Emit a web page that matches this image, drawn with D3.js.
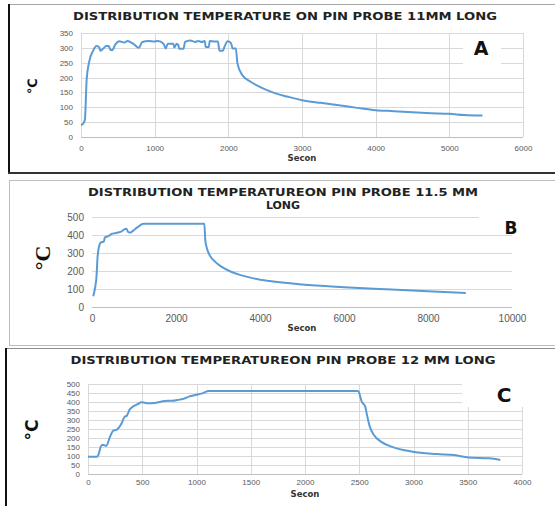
<!DOCTYPE html>
<html>
<head>
<meta charset="utf-8">
<script src="https://cdn.jsdelivr.net/npm/d3@7"></script>
<style>
  body { margin: 0; background: #fff; }
  svg { display: block; }
  .tick text { fill: #595959; font-family: "Liberation Sans", Arial, sans-serif; }
  .title { font-family: "DejaVu Sans", sans-serif; font-weight: bold; fill: #222; }
  .axis-title { font-family: "DejaVu Sans", sans-serif; font-weight: bold; fill: #333; font-size: 8.5px; }
</style>
</head>
<body>
<div id="wrapper"></div>
<script>
// Data: time (s) and temperature (°C)
const timeA = [0, 30, 53, 76, 111, 164, 209, 244, 262, 300, 342, 378, 396, 422, 467, 520, 587, 631, 707, 787, 831, 920, 987, 1044, 1120, 1151, 1178, 1253, 1267, 1298, 1320, 1333, 1391, 1413, 1480, 1547, 1591, 1640, 1680, 1693, 1735, 1747, 1813, 1858, 1880, 1924, 1947, 1991, 2036, 2058, 2102, 2124, 2191, 2302, 2400, 2500, 2650, 2800, 3000, 3250, 3500, 3750, 4000, 4250, 4500, 4750, 5000, 5200, 5450]
const tempA = [40, 45, 58, 190, 253, 290, 306, 303, 290, 297, 306, 306, 294, 292, 312, 322, 318, 323, 314, 300, 320, 323, 321, 323, 314, 298, 314, 314, 301, 314, 310, 297, 297, 320, 325, 320, 323, 320, 323, 303, 303, 323, 321, 321, 290, 290, 303, 322, 316, 298, 298, 247, 208, 186, 172, 160, 146, 136, 124, 115, 107, 98, 90, 87, 83, 80, 78, 74, 72]

const timeB = [30, 77, 107, 130, 168, 207, 283, 306, 398, 475, 552, 628, 705, 782, 820, 858, 920, 973, 1088, 1226, 2674, 2697, 2736, 2812, 2927, 3080, 3310, 3540, 3847, 4230, 5000, 6000, 7000, 8000, 8900]
const tempB = [60, 112, 168, 270, 336, 358, 364, 386, 395, 407, 410, 414, 420, 433, 435, 418, 414, 423, 444, 463, 463, 373, 326, 284, 252, 224, 196, 177, 159, 144, 125, 110, 98, 87, 78]

const timeC = [0, 82, 91, 127, 142, 167, 203, 233, 255, 279, 309, 339, 355, 385, 424, 461, 491, 521, 552, 612, 673, 733, 779, 824, 885, 930, 991, 1052, 1112, 2490, 2523, 2555, 2571, 2597, 2635, 2700, 2797, 2990, 3216, 3377, 3506, 3700, 3800]
const tempC = [96, 96, 100, 161, 161, 156, 207, 241, 244, 254, 281, 319, 322, 359, 378, 389, 398, 396, 393, 395, 402, 407, 407, 411, 419, 430, 439, 448, 461, 461, 402, 374, 328, 263, 217, 180, 152, 124, 111, 105, 92, 87, 78]

const panels = [
  {
    letter: "A", time: timeA, temp: tempA,
    titleLines: ["DISTRIBUTION TEMPERATURE ON PIN PROBE 11MM LONG"],
    titleY: [20], titleLen: [424], titleX: 285,
    xMax: 6000, xStep: 1000, yMax: 350, yStep: 50,
    x0: 81, x1: 523, yTop: 33, yBottom: 137, tickSize: 8, tickPad: 5, vGrid: true,
    unit: "℃", unitX: 37, unitY: 86, unitSize: 13, unitFont: "DejaVu Sans",
    secY: 161, letterPos: [481, 55], box: [463, 37, 38, 27], letterSize: 19
  },
  {
    letter: "B", time: timeB, temp: tempB,
    titleLines: ["DISTRIBUTION TEMPERATUREON PIN PROBE 11.5 MM", "LONG"],
    titleY: [196, 209], titleLen: [390, null], titleX: 283,
    xMax: 10000, xStep: 2000, yMax: 500, yStep: 100,
    x0: 92, x1: 512, yTop: 217, yBottom: 307, tickSize: 10, tickPad: 5, vGrid: false,
    unit: "°C", unitX: 50, unitY: 258, unitSize: 22, unitFont: "Liberation Serif",
    secY: 331, letterPos: [511, 234], box: [479, 213, 40, 20], letterSize: 17
  },
  {
    letter: "C", time: timeC, temp: tempC,
    titleLines: ["DISTRIBUTION TEMPERATUREON PIN PROBE 12 MM LONG"],
    titleY: [364], titleLen: [425], titleX: 283,
    xMax: 4000, xStep: 500, yMax: 500, yStep: 50,
    x0: 88, x1: 522, yTop: 384, yBottom: 474, tickSize: 8, tickPad: 2, vGrid: true,
    unit: "°C", unitX: 38, unitY: 430, unitSize: 17, unitFont: "DejaVu Sans",
    secY: 497, letterPos: [504, 402], box: [462, 382, 61, 25], letterSize: 20
  }
]

const svg = d3.select("#wrapper")
  .append("svg")
    .attr("width", 555)
    .attr("height", 506)

// panel frames
const frames = svg.append("g")
frames.append("line").attr("x1", 8).attr("x2", 555).attr("y1", 4.5).attr("y2", 4.5).attr("stroke", "#a6a6a6")
frames.append("line").attr("x1", 9).attr("x2", 9).attr("y1", 4).attr("y2", 174).attr("stroke", "#111").attr("stroke-width", 2)
frames.append("line").attr("x1", 8).attr("x2", 555).attr("y1", 173).attr("y2", 173).attr("stroke", "#333").attr("stroke-width", 2)
frames.append("rect").attr("x", 9.5).attr("y", 180.5).attr("width", 560).attr("height", 165)
  .attr("fill", "none").attr("stroke", "#bdbdbd")
frames.append("line").attr("x1", 6).attr("x2", 555).attr("y1", 348.5).attr("y2", 348.5).attr("stroke", "#8c8c8c")
frames.append("line").attr("x1", 6).attr("x2", 6).attr("y1", 348).attr("y2", 506).attr("stroke", "#111").attr("stroke-width", 2)

panels.forEach(p => {
  const g = svg.append("g")

  const xScale = d3.scaleLinear().domain([0, p.xMax]).range([p.x0, p.x1])
  const yScale = d3.scaleLinear().domain([0, p.yMax]).range([p.yBottom, p.yTop])

  const xTicks = d3.range(0, p.xMax + 1, p.xStep)
  const yTicks = d3.range(0, p.yMax + 1, p.yStep)

  // gridlines
  g.append("g").selectAll("line")
    .data(yTicks)
    .join("line")
      .attr("x1", p.x0).attr("x2", p.x1)
      .attr("y1", d => Math.round(yScale(d)) + 0.5)
      .attr("y2", d => Math.round(yScale(d)) + 0.5)
      .attr("stroke", d => d == 0 ? "#bfbfbf" : "#d9d9d9")
  if (p.vGrid) {
    g.append("g").selectAll("line")
      .data(xTicks)
      .join("line")
        .attr("x1", d => Math.round(xScale(d)) + 0.5)
        .attr("x2", d => Math.round(xScale(d)) + 0.5)
        .attr("y1", p.yTop).attr("y2", p.yBottom)
        .attr("stroke", "#d9d9d9")
  }

  // axes (labels only)
  const xAxis = g.append("g")
    .attr("transform", `translate(0, ${p.yBottom + 3})`)
    .call(d3.axisBottom(xScale).tickValues(xTicks).tickFormat(d3.format("d")).tickSize(0).tickPadding(p.tickPad))
  const yAxis = g.append("g")
    .attr("transform", `translate(${p.x0 - 4}, 0)`)
    .call(d3.axisLeft(yScale).tickValues(yTicks).tickFormat(d3.format("d")).tickSize(0).tickPadding(4))
  ;[xAxis, yAxis].forEach(a => {
    a.select(".domain").remove()
    a.selectAll("text").style("font-size", p.tickSize + "px")
  })

  // white box behind the panel letter
  g.append("rect")
    .attr("x", p.box[0]).attr("y", p.box[1])
    .attr("width", p.box[2]).attr("height", p.box[3])
    .attr("fill", "#fff")

  // line
  const line = d3.line()
    .x((d, i) => xScale(p.time[i]))
    .y((d, i) => yScale(p.temp[i]))
    .curve(d3.curveMonotoneX)
  g.append("path")
    .datum(p.temp)
    .attr("d", line)
    .attr("fill", "none")
    .attr("stroke", "#5b9bd5")
    .attr("stroke-width", 2)
    .attr("stroke-linejoin", "round")

  // titles
  p.titleLines.forEach((t, i) => {
    const txt = g.append("text")
      .attr("class", "title")
      .attr("x", p.titleX)
      .attr("y", p.titleY[i])
      .attr("text-anchor", "middle")
      .style("font-size", "11px")
      .text(t)
    if (p.titleLen[i]) txt.attr("textLength", p.titleLen[i]).attr("lengthAdjust", "spacingAndGlyphs")
  })

  g.append("text")
    .attr("class", "axis-title")
    .attr("x", (p.x0 + p.x1) / 2)
    .attr("y", p.secY)
    .attr("text-anchor", "middle")
    .text("Secon")

  g.append("text")
    .attr("transform", `translate(${p.unitX}, ${p.unitY}) rotate(-90)`)
    .attr("text-anchor", "middle")
    .style("font-family", p.unitFont)
    .style("font-weight", "bold")
    .style("font-size", p.unitSize + "px")
    .attr("fill", "#111")
    .text(p.unit)

  g.append("text")
    .attr("x", p.letterPos[0])
    .attr("y", p.letterPos[1])
    .attr("text-anchor", "middle")
    .style("font-family", "DejaVu Sans, sans-serif")
    .style("font-weight", "bold")
    .style("font-size", p.letterSize + "px")
    .attr("fill", "#111")
    .text(p.letter)
})
</script>
</body>
</html>
